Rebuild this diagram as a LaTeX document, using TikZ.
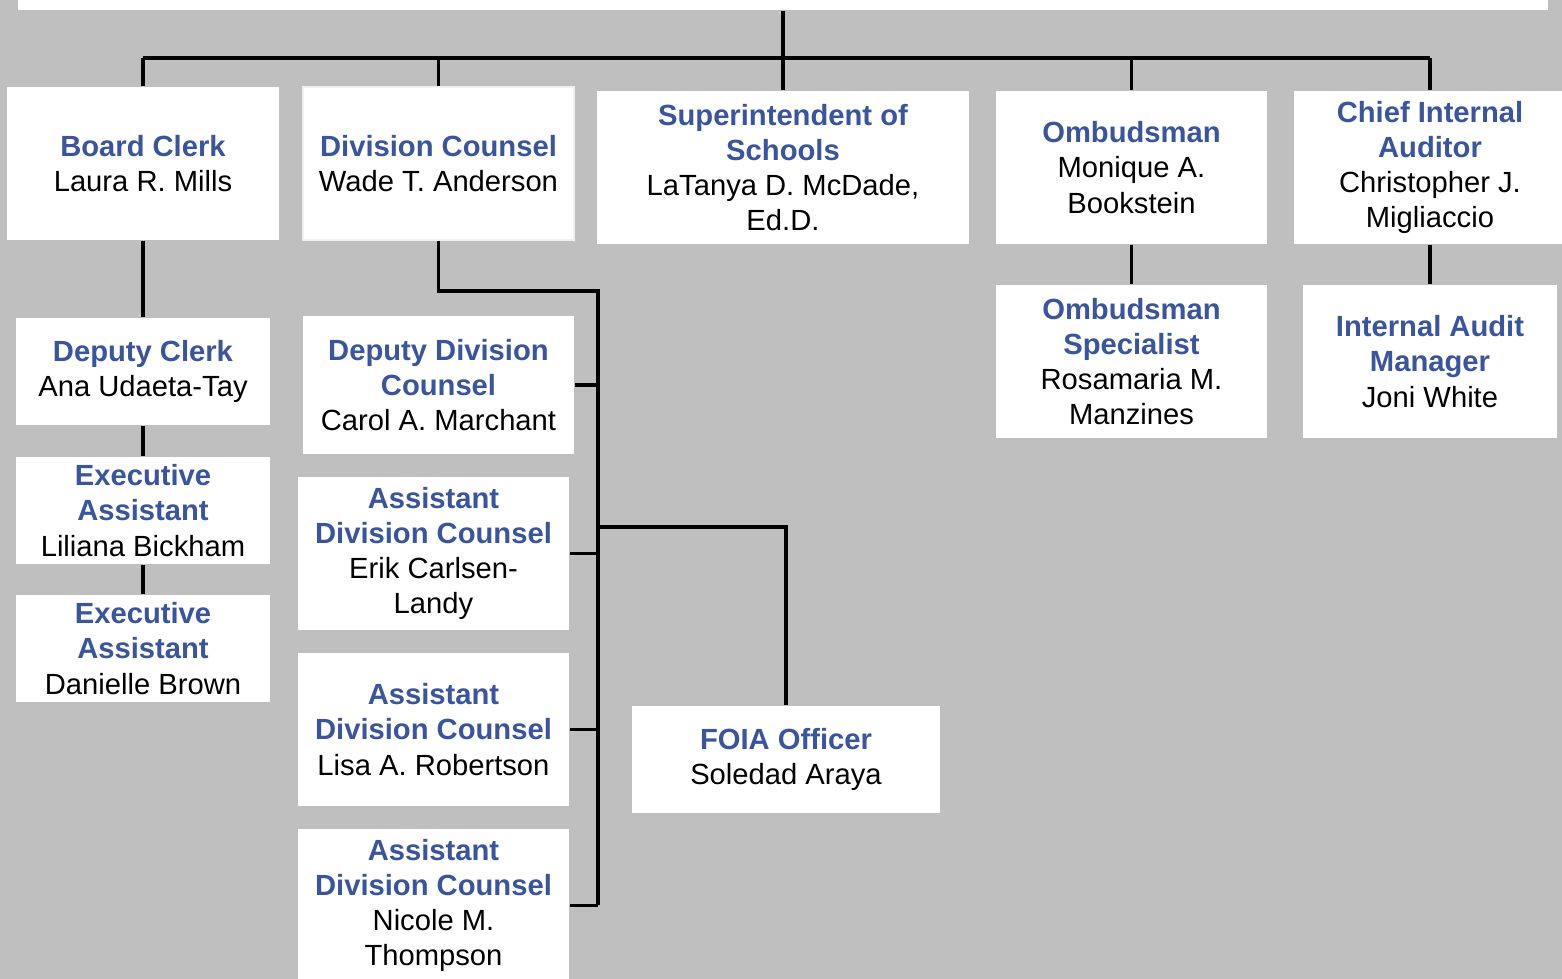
\documentclass[tikz,border=0pt]{standalone}
\usepackage{fontspec}
\setmainfont{Liberation Sans}
\usetikzlibrary{positioning}
\definecolor{rolecol}{RGB}{58,84,158}
\definecolor{bggray}{RGB}{191,191,191}
\tikzset{
  unit/.style={fill=white, draw=none, align=center, inner sep=0pt,
    font=\fontsize{8.3}{10}\selectfont, minimum height=1.53cm},
  link/.style={draw=black, line width=0.9pt}
}
\newcommand{\role}[1]{\textcolor{rolecol}{\textbf{#1}}}
\begin{document}
\begin{tikzpicture}[x=0.01cm, y=-0.01cm]
  \useasboundingbox (0,0) rectangle (1562,979);
  \fill[bggray] (0,0) rectangle (1562,979);
  \node[unit, minimum width=15.3cm, minimum height=1cm] (top) at (783,-40) {};
  \node[unit, minimum width=2.72cm] (clerk) at (143,163.5) {\role{Board Clerk}\\Laura R. Mills};
  \node[unit, minimum width=2.71cm, draw=black!6] (counsel) at (438.5,163.5) {\role{Division Counsel}\\Wade T. Anderson};
  \node[unit, minimum width=3.72cm] (supt) at (783,167.5) {\role{Superintendent of}\\\role{Schools}\\LaTanya D. McDade,\\Ed.D.};
  \node[unit, minimum width=2.71cm] (ombud) at (1131.5,167.5) {\role{Ombudsman}\\Monique A.\\Bookstein};
  \node[unit, minimum width=2.72cm] (auditor) at (1430,167.5) {\role{Chief Internal}\\\role{Auditor}\\Christopher J.\\Migliaccio};
  \node[unit, minimum width=2.54cm, minimum height=1.07cm] (dclerk) at (143,371.5) {\role{Deputy Clerk}\\Ana Udaeta-Tay};
  \node[unit, minimum width=2.54cm, minimum height=1.07cm] (exec1) at (143,510.5) {\role{Executive}\\\role{Assistant}\\Liliana Bickham};
  \node[unit, minimum width=2.54cm, minimum height=1.07cm] (exec2) at (143,648.5) {\role{Executive}\\\role{Assistant}\\Danielle Brown};
  \node[unit, minimum width=2.71cm, minimum height=1.38cm] (ddc) at (438.5,385) {\role{Deputy Division}\\\role{Counsel}\\Carol A. Marchant};
  \node[unit, minimum width=2.71cm] (adc1) at (433.5,553.5) {\role{Assistant}\\\role{Division Counsel}\\Erik Carlsen-\\Landy};
  \node[unit, minimum width=2.71cm] (adc2) at (433.5,729.5) {\role{Assistant}\\\role{Division Counsel}\\Lisa A. Robertson};
  \node[unit, minimum width=2.71cm] (adc3) at (433.5,905.5) {\role{Assistant}\\\role{Division Counsel}\\Nicole M.\\Thompson};
  \node[unit, minimum width=3.08cm, minimum height=1.07cm] (foia) at (786,759.5) {\role{FOIA Officer}\\Soledad Araya};
  \node[unit, minimum width=2.71cm] (ospec) at (1131.5,361.5) {\role{Ombudsman}\\\role{Specialist}\\Rosamaria M.\\Manzines};
  \node[unit, minimum width=2.54cm] (iam) at (1430,361.5) {\role{Internal Audit}\\\role{Manager}\\Joni White};
  \coordinate (bus) at (783,58);
  \coordinate (dcbar) at (598,291);
  \coordinate (foiabr) at (598,527);
  \draw[link] (top.south) -- (bus);
  \draw[link] (clerk.north |- bus) -- (auditor.north |- bus);
  \foreach \n in {clerk,counsel,supt,ombud,auditor}
    \draw[link] (\n.north |- bus) -- (\n.north);
  \draw[link] (clerk) -- (dclerk);
  \draw[link] (dclerk) -- (exec1);
  \draw[link] (exec1) -- (exec2);
  \draw[link] (ombud) -- (ospec);
  \draw[link] (auditor) -- (iam);
  \draw[link] (counsel.south) -- (counsel.south |- dcbar) -- (dcbar) -- (dcbar |- adc3.east);
  \foreach \n in {ddc,adc1,adc2,adc3}
    \draw[link] (\n.east) -- (\n.east -| dcbar);
  \draw[link] (foiabr) -| (foia.north);
\end{tikzpicture}
\end{document}
